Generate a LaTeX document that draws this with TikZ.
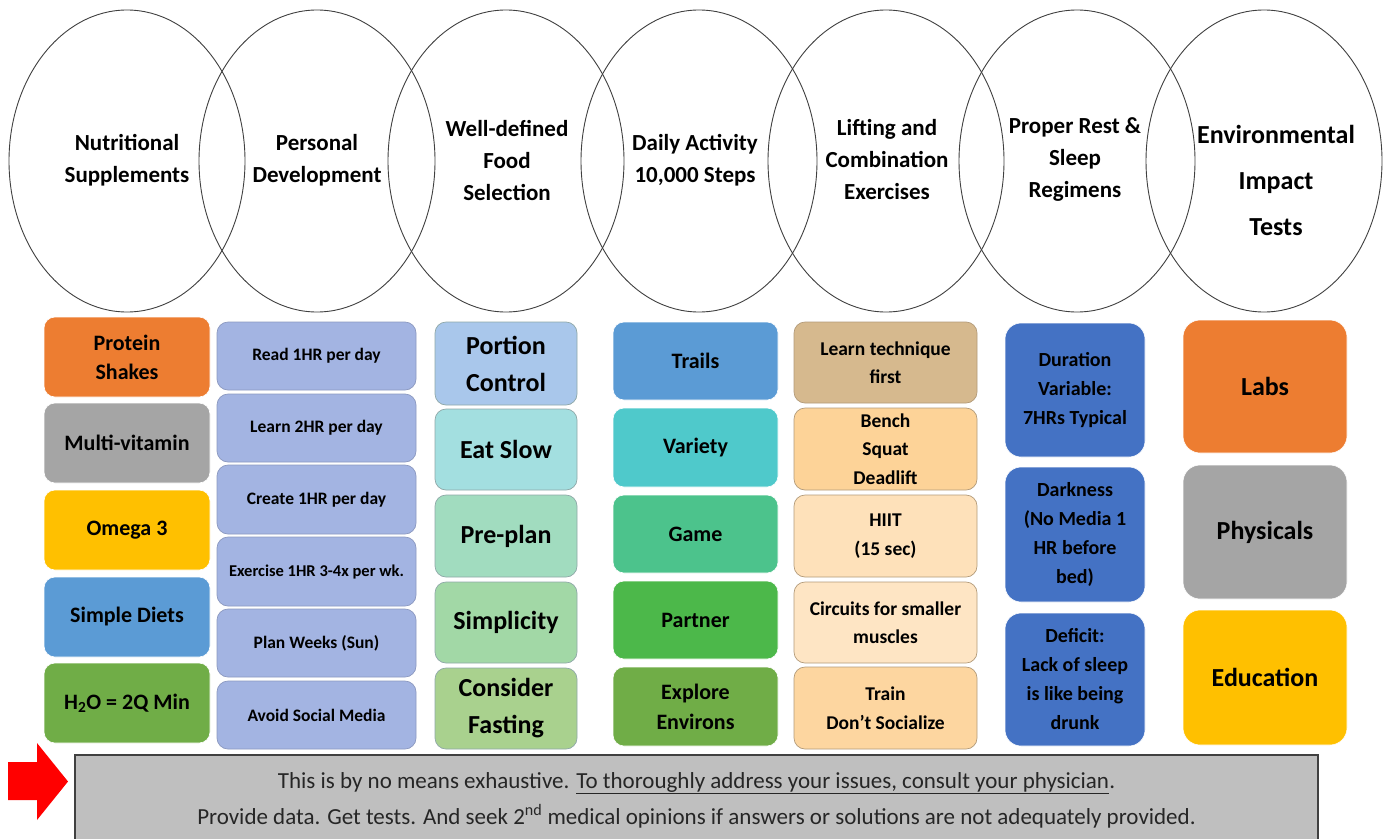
\documentclass[tikz,border=0pt]{standalone}
\usepackage{fontspec}
\setmainfont{Carlito}
\usetikzlibrary{shapes.geometric}
\definecolor{ellc}{HTML}{404040}
\definecolor{cOrange}{HTML}{ED7D31}
\definecolor{cGray}{HTML}{A5A5A5}
\definecolor{cGold}{HTML}{FFC000}
\definecolor{cBlue}{HTML}{5B9BD5}
\definecolor{cGreen}{HTML}{70AD47}
\definecolor{cPeri}{HTML}{A3B4E2}
\definecolor{cPeriB}{HTML}{8C99C0}
\definecolor{fA}{HTML}{A9C7EB}
\definecolor{fB}{HTML}{A3DFE0}
\definecolor{fC}{HTML}{A1DCBF}
\definecolor{fD}{HTML}{A2D8A6}
\definecolor{fE}{HTML}{A9D18E}
\definecolor{fBorder}{HTML}{8FA8A8}
\definecolor{dB}{HTML}{5B9BD5}
\definecolor{dT}{HTML}{4FC9CB}
\definecolor{dG}{HTML}{4CC38C}
\definecolor{dP}{HTML}{4CB84A}
\definecolor{dE}{HTML}{70AD47}
\definecolor{lA}{HTML}{D6B98E}
\definecolor{lB}{HTML}{FDD398}
\definecolor{lC}{HTML}{FEE1BA}
\definecolor{lD}{HTML}{FEE5C4}
\definecolor{lE}{HTML}{FDD6A0}
\definecolor{lBorder}{HTML}{B39B7A}
\definecolor{rBlue}{HTML}{4472C4}
\definecolor{noteGray}{HTML}{BFBFBF}
\definecolor{noteText}{HTML}{262626}
\newcommand\Bx[7]{\node[bx,#6,minimum width={#4-#2},minimum height={#5-#3}] (#1) at ({(#2+#4)/2},{(#3+#5)/2}) {#7};}
\begin{document}
\begin{tikzpicture}[x=1pt,y=-1pt,
  circ/.style={ellipse,draw=ellc,line width=0.9pt,minimum width=236pt,minimum height=302pt,inner sep=0pt},
  hd/.style={font=\bfseries\fontsize{23}{32}\selectfont,align=center,text=black},
  hdbig/.style={font=\bfseries\fontsize{26}{46}\selectfont,align=center,text=black},
  bx/.style={rounded corners=11pt,inner sep=0pt,align=center,text=black},
  cone/.style={font=\bfseries\fontsize{22}{29}\selectfont,draw=white,line width=0.6pt},
  ctwo/.style={font=\bfseries\fontsize{17.5}{22}\selectfont,fill=cPeri,draw=cPeriB,line width=0.7pt},
  cthree/.style={font=\bfseries\fontsize{26}{37}\selectfont,draw=fBorder,line width=0.7pt},
  cfour/.style={font=\bfseries\fontsize{22}{30}\selectfont,draw=white,line width=0.6pt},
  cfive/.style={font=\bfseries\fontsize{19.5}{28.5}\selectfont,draw=lBorder,line width=0.7pt},
  csix/.style={font=\bfseries\fontsize{20}{29}\selectfont,fill=rBlue,draw=white,line width=0.6pt,rounded corners=16pt},
  cseven/.style={font=\bfseries\fontsize{26}{32}\selectfont,draw=white,line width=0.6pt,rounded corners=17pt},
  note/.style={fill=noteGray,draw=ellc,line width=1.2pt,inner sep=0pt},
  notetext/.style={font=\fontsize{23}{36}\selectfont,align=center,text=noteText},
  redarrow/.style={fill=red,draw=none}
]
\clip (0,0) rectangle (1388,838);
\useasboundingbox (0,0) rectangle (1388,838);
\fill[white] (0,0) rectangle (1388,838);

% header ellipses
\node[circ] (e1) at (127,161) {};
\node[circ] (e2) at (317,161) {};
\node[circ] (e3) at (506,161) {};
\node[circ] (e4) at (699,161) {};
\node[circ] (e5) at (886,161) {};
\node[circ] (e6) at (1077,161) {};
\node[circ] (e7) at (1264,161) {};
\node[hd] (t1) at (127,160) {Nutritional\\Supplements};
\node[hd] (t2) at (317,160) {Personal\\Development};
\node[hd] (t3) at (507,160) {Well-defined\\Food\\Selection};
\node[hd] (t4) at (695,160) {Daily Activity\\10,000 Steps};
\node[hd] (t5) at (887,160) {Lifting and\\Combination\\Exercises};
\node[hd] (t6) at (1075,160) {Proper Rest \&\\Sleep\\Regimens};
\node[hdbig] (t7) at (1276,180) {Environmental\\Impact\\Tests};

% column 1
\Bx{a1}{44}{317}{210}{397}{cone,fill=cOrange}{Protein\\Shakes}
\Bx{a2}{44}{403}{210}{483}{cone,fill=cGray}{Multi-vitamin}
\Bx{a3}{44}{490}{210}{570}{cone,fill=cGold}{Omega 3}
\Bx{a4}{44}{577}{210}{657}{cone,fill=cBlue}{Simple Diets}
\Bx{a5}{44}{663}{210}{743}{cone,fill=cGreen}{H\textsubscript{2}O = 2Q Min}

% column 2
\Bx{b1}{217}{322}{416}{390}{ctwo}{Read 1HR per day}
\Bx{b2}{217}{394}{416}{462}{ctwo}{Learn 2HR per day}
\Bx{b3}{217}{465}{416}{534}{ctwo}{Create 1HR per day}
\Bx{b4}{217}{537}{416}{606}{ctwo,font=\bfseries\fontsize{16.5}{22}\selectfont}{Exercise 1HR 3-4x per wk.}
\Bx{b5}{217}{609}{416}{677}{ctwo}{Plan Weeks (Sun)}
\Bx{b6}{217}{681}{416}{749}{ctwo}{Avoid Social Media}

% column 3
\Bx{c1}{435}{322}{577}{405}{cthree,fill=fA}{Portion\\Control}
\Bx{c2}{435}{409}{577}{490}{cthree,fill=fB}{Eat Slow}
\Bx{c3}{435}{495}{577}{577}{cthree,fill=fC}{Pre-plan}
\Bx{c4}{435}{582}{577}{663}{cthree,fill=fD}{Simplicity}
\Bx{c5}{435}{668}{577}{749}{cthree,fill=fE}{Consider\\Fasting}

% column 4
\Bx{d1}{613}{322}{778}{400}{cfour,fill=dB}{Trails}
\Bx{d2}{613}{408}{778}{487}{cfour,fill=dT}{Variety}
\Bx{d3}{613}{495}{778}{573}{cfour,fill=dG}{Game}
\Bx{d4}{613}{581}{778}{659}{cfour,fill=dP}{Partner}
\Bx{d5}{613}{667}{778}{746}{cfour,fill=dE}{Explore\\Environs}

% column 5
\Bx{f1}{794}{322}{977}{403}{cfive,fill=lA}{Learn technique\\first}
\Bx{f2}{794}{408}{977}{490}{cfive,fill=lB}{Bench\\Squat\\Deadlift}
\Bx{f3}{794}{495}{977}{577}{cfive,fill=lC}{HIIT\\(15 sec)}
\Bx{f4}{794}{582}{977}{663}{cfive,fill=lD}{Circuits for smaller\\muscles}
\Bx{f5}{794}{667}{977}{749}{cfive,fill=lE}{Train\\Don’t Socialize}

% column 6
\Bx{g1}{1005}{323}{1145}{457}{csix}{Duration\\Variable:\\7HRs Typical}
\Bx{g2}{1005}{467}{1145}{602}{csix}{Darkness\\(No Media 1\\HR before\\bed)}
\Bx{g3}{1005}{613}{1145}{746}{csix}{Deficit:\\Lack of sleep\\is like being\\drunk}

% column 7
\Bx{h1}{1183}{320}{1347}{453}{cseven,fill=cOrange}{Labs}
\Bx{h2}{1183}{465}{1347}{599}{cseven,fill=cGray}{Physicals}
\Bx{h3}{1183}{610}{1347}{745}{cseven,fill=cGold}{Education}

% note box
\node[note,minimum width=1243pt,minimum height=95pt] (nb) at (696.5,802.5) {};
\node[notetext] (nt) at (696.5,800) {This is by no means exhaustive. \underline{To thoroughly address your issues, consult your physician}.\\Provide data. Get tests. And seek 2\textsuperscript{nd} medical opinions if answers or solutions are not adequately provided.};

% red arrow
\path[redarrow] (8,762) -- (37,762) -- (37,743) -- (68,781.5) -- (37,820) -- (37,800) -- (8,800) -- cycle;
\end{tikzpicture}
\end{document}
